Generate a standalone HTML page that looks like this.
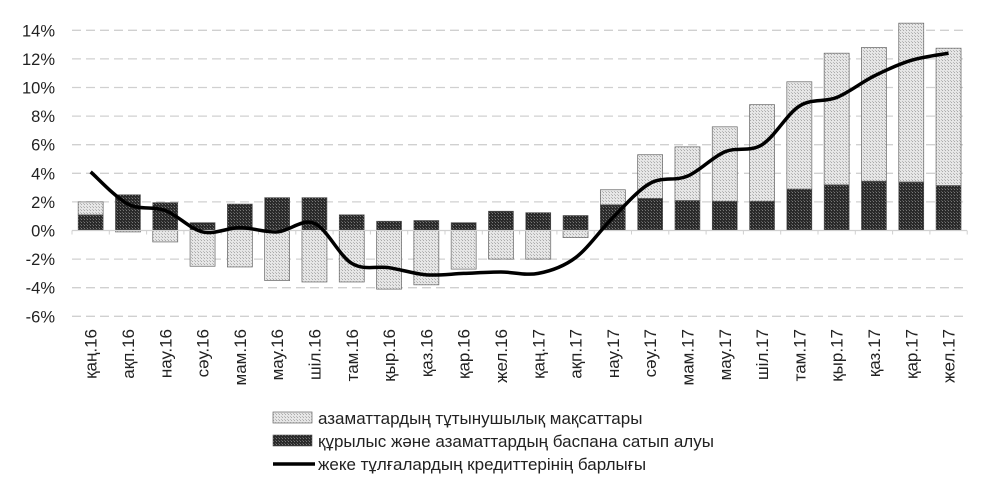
<!DOCTYPE html>
<html><head><meta charset="utf-8"><style>
body{margin:0;background:#fff;}
svg{display:block;font-family:"Liberation Sans","DejaVu Sans",sans-serif;}
</style></head><body>
<svg id="c" width="1000" height="484" xmlns="http://www.w3.org/2000/svg">
<defs>
<pattern id="pd" width="3" height="3" patternUnits="userSpaceOnUse"><rect width="3" height="3" fill="#2a2a2a"/><rect x="0" y="0" width="1" height="1" fill="#777"/><rect x="2" y="2" width="1" height="1" fill="#555"/></pattern>
<pattern id="pl" width="3" height="3" patternUnits="userSpaceOnUse"><rect width="3" height="3" fill="#e6e6e6"/><rect x="0" y="0" width="1" height="1" fill="#aaa"/><rect x="2" y="2" width="1" height="1" fill="#bbb"/></pattern>
</defs>
<g id="g"></g>
</svg>
<script>
var g=document.getElementById('g'),s='';
var X0=72,W=37.3,Y0=230.5,K=14.3;
function y(v){return Y0-v*K;}
for(var v=-6;v<=14;v+=2){
 if(v!=0)s+='<line x1="72" x2="967" y1="'+y(v)+'" y2="'+y(v)+'" stroke="#d0d0d0" stroke-width="1.3" stroke-dasharray="9,5"/>';
 s+='<text x="55" y="'+(y(v)+6)+'" text-anchor="end" font-size="16.5" fill="#222">'+v+'%</text>';
}
var L=["қаң.16","ақп.16","нау.16","сәу.16","мам.16","мау.16","шіл.16","там.16","қыр.16","қаз.16","қар.16","жел.16","қаң.17","ақп.17","нау.17","сәу.17","мам.17","мау.17","шіл.17","там.17","қыр.17","қаз.17","қар.17","жел.17"];
var D=[1.1,2.5,1.95,.55,1.85,2.3,2.3,1.1,.65,.7,.55,1.35,1.25,1.05,1.8,2.25,2.1,2.05,2.05,2.9,3.2,3.45,3.4,3.15];
var C=[.9,-.1,-.8,-2.5,-2.55,-3.5,-3.6,-3.6,-4.1,-3.8,-2.7,-2.0,-2.0,-.5,1.05,3.05,3.75,5.2,6.75,7.5,9.2,9.35,11.1,9.6];
var T=[4.1,1.85,1.4,-.1,.2,-.1,.5,-2.3,-2.6,-3.1,-3.0,-2.9,-3.0,-1.9,.9,3.3,3.8,5.5,6.0,8.7,9.3,10.8,11.9,12.4];
for(var i=0;i<24;i++){
 var cx=X0+W*(i+.5),bx=cx-12.5;
 s+='<rect x="'+bx+'" y="'+y(D[i])+'" width="25" height="'+(D[i]*K)+'" fill="url(#pd)" stroke="#555" stroke-width=".6"/>';
 if(C[i]>0)s+='<rect x="'+bx+'" y="'+y(D[i]+C[i])+'" width="25" height="'+(C[i]*K)+'" fill="url(#pl)" stroke="#666" stroke-width=".7"/>';
 else s+='<rect x="'+bx+'" y="'+Y0+'" width="25" height="'+(-C[i]*K)+'" fill="url(#pl)" stroke="#666" stroke-width=".7"/>';
 s+='<text transform="translate('+(cx+6)+',329) rotate(-90)" text-anchor="end" font-size="17" fill="#222">'+L[i]+'</text>';
}
s+='<line x1="72" x2="967" y1="'+Y0+'" y2="'+Y0+'" stroke="#d0d0d0" stroke-width="1.3"/>';
for(var i=0;i<=24;i++){var tx=X0+W*i;s+='<line x1="'+tx+'" x2="'+tx+'" y1="'+Y0+'" y2="'+(Y0+4)+'" stroke="#d0d0d0"/>';}
var P=T.map(function(v,i){return [X0+W*(i+.5),y(v)];});
var d='M'+P[0][0]+','+P[0][1];
for(var i=0;i<23;i++){var p0=P[Math.max(0,i-1)],p1=P[i],p2=P[i+1],p3=P[Math.min(23,i+2)];
 d+=' C'+(p1[0]+(p2[0]-p0[0])/6)+','+(p1[1]+(p2[1]-p0[1])/6)+' '+(p2[0]-(p3[0]-p1[0])/6)+','+(p2[1]-(p3[1]-p1[1])/6)+' '+p2[0]+','+p2[1];}
s+='<path d="'+d+'" fill="none" stroke="#000" stroke-width="3.5" stroke-linejoin="round"/>';
s+='<rect x="273" y="412" width="39" height="11" fill="url(#pl)" stroke="#666" stroke-width=".7"/>';
s+='<text x="318" y="424" font-size="17" fill="#222">азаматтардың тұтынушылық мақсаттары</text>';
s+='<rect x="273" y="435" width="39" height="11" fill="url(#pd)" stroke="#555" stroke-width=".6"/>';
s+='<text x="318" y="447" font-size="17" fill="#222">құрылыс және азаматтардың баспана сатып алуы</text>';
s+='<line x1="273" x2="315" y1="464" y2="464" stroke="#000" stroke-width="3.5"/>';
s+='<text x="318" y="470" font-size="17" fill="#222">жеке тұлғалардың кредиттерінің барлығы</text>';
g.innerHTML=s;
</script>
</body></html>
